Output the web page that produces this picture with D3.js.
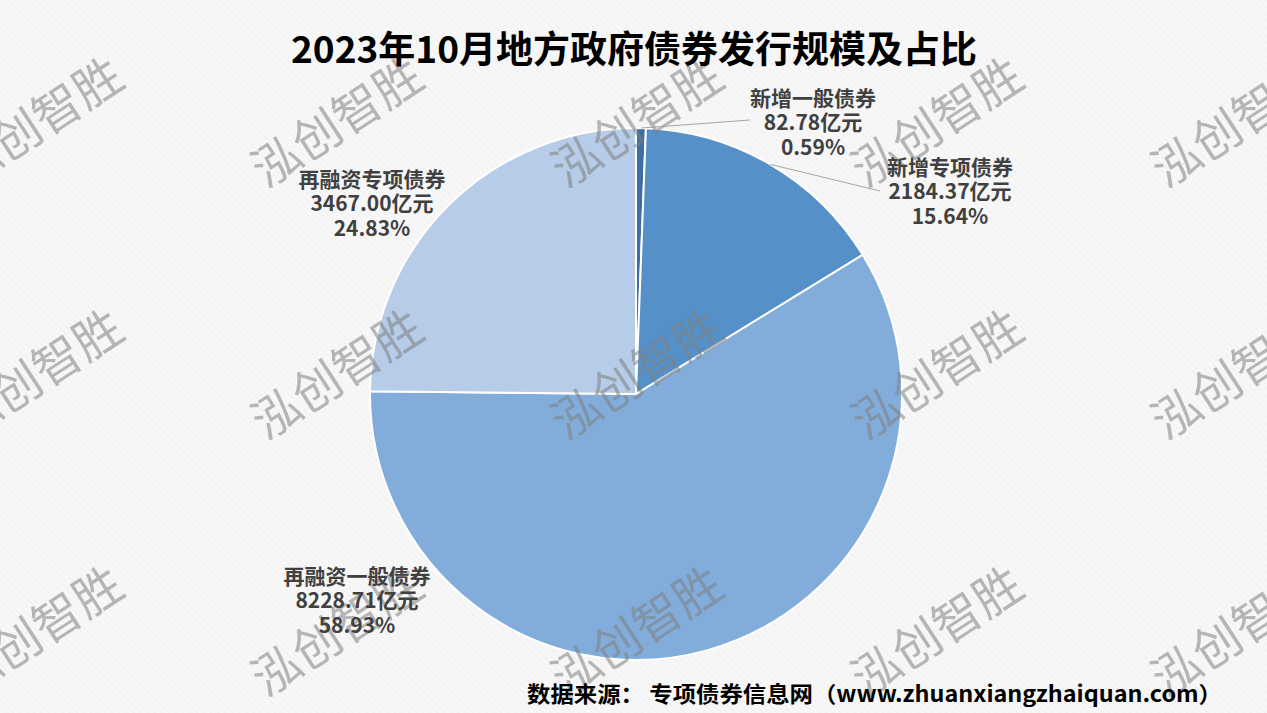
<!DOCTYPE html>
<html>
<head>
<meta charset="utf-8">
<script src="https://cdn.jsdelivr.net/npm/d3@7"></script>
<style>
html,body{margin:0;padding:0;background:#f6f6f6;}
svg{display:block;}
</style>
</head>
<body>
<svg id="chart" width="1267" height="713"></svg>
<script>
// ---- data ----
const categories = ["新增一般债券", "新增专项债券", "再融资一般债券", "再融资专项债券"];
const amounts = [82.78, 2184.37, 8228.71, 3467.00];
const shareLabels = ["0.59%", "15.64%", "58.93%", "24.83%"];
const colors = ["#3b6ea6", "#5591c8", "#82addb", "#b7cce8"];
const titleText = "2023年10月地方政府债券发行规模及占比";
const sourceText = "数据来源：  专项债券信息网（www.zhuanxiangzhaiquan.com）";
const watermarkText = "泓创智胜";

// ---- layout ----
const W = 1267, H = 713;
const cx = 636, cy = 394, R = 266;
const labelLayout = [
  {x: 813, y: 121, leader: true, lx: 750, ly: 120},
  {x: 950, y: 190, leader: true, lx: 880, ly: 191},
  {x: 357, y: 599, leader: false},
  {x: 372, y: 202, leader: false}
];
const FONT = "'Microsoft YaHei','Noto Sans CJK SC','Noto Sans',sans-serif";

const svg = d3.select("#chart");

// background with faint diagonal hatch
const defs = svg.append("defs");
const pat = defs.append("pattern").attr("id", "hatch").attr("patternUnits", "userSpaceOnUse")
  .attr("width", 5).attr("height", 5).attr("patternTransform", "rotate(-45)");
pat.append("rect").attr("width", 5).attr("height", 5).attr("fill", "#f7f7f7");
pat.append("line").attr("x1", 0).attr("y1", 0).attr("x2", 0).attr("y2", 5)
  .attr("stroke", "#efefef").attr("stroke-width", 1.5);
svg.append("rect").attr("width", W).attr("height", H).attr("fill", "url(#hatch)");

// pie
const pie = d3.pie().sort(null).value(d => d)(amounts);
const arc = d3.arc().innerRadius(0).outerRadius(R);
const g = svg.append("g").attr("transform", `translate(${cx},${cy})`);
g.selectAll("path").data(pie).join("path")
  .attr("d", arc)
  .attr("fill", (d, i) => colors[i])
  .attr("stroke", "#ffffff").attr("stroke-width", 2).attr("stroke-linejoin", "miter");

// watermark
const wmX = [35, 335, 635, 935, 1235];
const wmY = [119, 371, 628];
const wm = svg.append("g");
wmY.forEach(y => wmX.forEach(x => {
  wm.append("text").attr("transform", `translate(${x},${y}) rotate(-33)`)
    .attr("text-anchor", "middle").attr("dominant-baseline", "central")
    .attr("font-family", FONT).attr("font-size", 48).attr("font-weight", 400)
    .attr("fill", "#7f7f7f").attr("fill-opacity", 0.55)
    .text(watermarkText);
}));

// leader lines
pie.forEach((d, i) => {
  const L = labelLayout[i];
  if (!L.leader) return;
  const a = (d.startAngle + d.endAngle) / 2;
  const px = cx + R * Math.sin(a), py = cy - R * Math.cos(a);
  svg.append("line").attr("x1", px).attr("y1", py).attr("x2", L.lx).attr("y2", L.ly)
    .attr("stroke", "#a6a6a6").attr("stroke-width", 1);
});

// labels
const lineGap = 24.5;
pie.forEach((d, i) => {
  const L = labelLayout[i];
  const t = svg.append("text").attr("text-anchor", "middle")
    .attr("font-family", FONT).attr("font-size", 21).attr("font-weight", 700)
    .attr("fill", "#404040");
  const lines = [categories[i], d3.format(".2f")(amounts[i]) + "亿元", shareLabels[i]];
  lines.forEach((s, k) => {
    t.append("tspan").attr("x", L.x).attr("y", L.y + (k - 1) * lineGap)
      .attr("dominant-baseline", "central").text(s);
  });
});

// title
svg.append("text").attr("x", 634).attr("y", 47).attr("text-anchor", "middle")
  .attr("dominant-baseline", "central")
  .attr("font-family", FONT).attr("font-size", 37).attr("font-weight", 700)
  .attr("fill", "#000000").text(titleText);

// source
svg.append("text").attr("x", 527).attr("y", 692).attr("text-anchor", "start")
  .attr("dominant-baseline", "central")
  .attr("textLength", 695).attr("lengthAdjust", "spacingAndGlyphs")
  .attr("font-family", FONT).attr("font-size", 22).attr("font-weight", 700)
  .attr("fill", "#000000").text(sourceText);
</script>
</body>
</html>
